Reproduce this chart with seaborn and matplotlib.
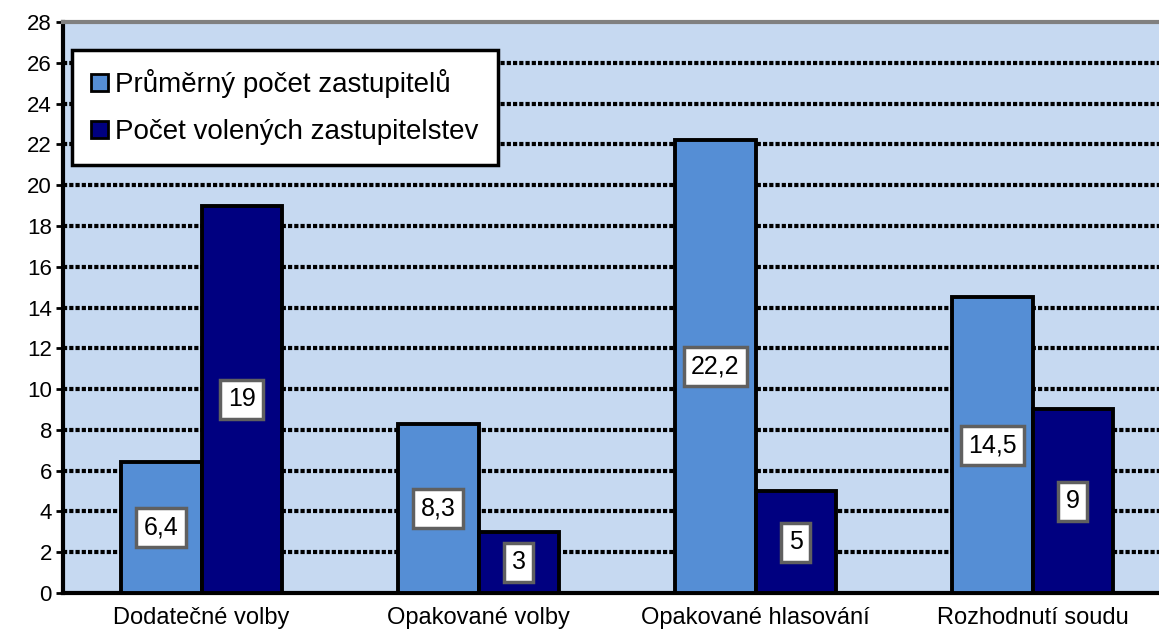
import matplotlib
matplotlib.use("Agg")
import matplotlib.pyplot as plt
import matplotlib.patches as mpatches
import seaborn as sns
import pandas as pd

# Données du graphique
kategorie = ["Dodatečné volby", "Opakované volby", "Opakované hlasování", "Rozhodnutí soudu"]
prumerny_pocet = [6.4, 8.3, 22.2, 14.5]
pocet_zastupitelstev = [19, 3, 5, 9]
serie = ["Průměrný počet zastupitelů", "Počet volených zastupitelstev"]
barvy = ["#558ED5", "#000080"]

df = pd.DataFrame({
    "kategorie": kategorie * 2,
    "hodnota": prumerny_pocet + pocet_zastupitelstev,
    "serie": [serie[0]] * 4 + [serie[1]] * 4,
})

sns.set_style("white", {"text.color": "black", "xtick.color": "black", "ytick.color": "black"})
plt.rcParams["font.family"] = ["Liberation Sans", "DejaVu Sans"]

fig = plt.figure(figsize=(11.59, 6.30), dpi=100)
ax = fig.add_axes([63 / 1159, 37 / 630, 1108 / 1159, 571 / 630])
ax.set_facecolor("#C6D9F1")

sns.barplot(data=df, x="kategorie", y="hodnota", hue="serie", palette=barvy,
            saturation=1, width=0.58, edgecolor="black", linewidth=2.8, ax=ax,
            legend=False, zorder=3)

ax.set_ylim(0, 28)
ax.set_xlim(-0.5, 3.5)
ax.set_yticks(range(0, 29, 2))
ax.tick_params(axis="y", labelsize=16, length=5, width=2, direction="out", pad=3,
               left=True, colors="black")

# graduations entre les catégories
ax.set_xticks([i - 0.5 for i in range(5)], minor=True)
ax.tick_params(axis="x", which="minor", length=6, width=2, direction="out", colors="black")
ax.tick_params(axis="x", which="major", length=0, labelsize=17, pad=10, labelcolor="black")
ax.set_xlabel("")
ax.set_ylabel("")

# grille pointillée
for y in range(2, 28, 2):
    ax.axhline(y, color="black", linewidth=3, linestyle=(0, (1, 0.5)), zorder=1)
ax.axhline(28, color="black", linewidth=1.2, linestyle=(0, (2, 1)), zorder=1)

for side in ["left", "bottom"]:
    ax.spines[side].set_linewidth(3)
    ax.spines[side].set_color("black")
ax.spines["top"].set_color("#808080")
ax.spines["top"].set_linewidth(3)
ax.spines["right"].set_visible(False)

# étiquettes des valeurs au milieu des barres
for cont in ax.containers:
    for rect in cont:
        h = rect.get_height()
        txt = f"{h:g}".replace(".", ",")
        ax.text(rect.get_x() + rect.get_width() / 2, h / 2, txt, ha="center", va="center",
                fontsize=18, color="black", zorder=5,
                bbox=dict(boxstyle="square,pad=0.3", facecolor="white",
                          edgecolor="#606060", linewidth=2.5))

handles = [mpatches.Patch(facecolor=c, edgecolor="black", linewidth=2) for c in barvy]
leg = ax.legend(handles, serie, loc="upper left", bbox_to_anchor=(0.008, 0.951),
                fontsize=20, frameon=True, fancybox=False, edgecolor="black",
                facecolor="white", framealpha=1,
                handlelength=0.6, handleheight=0.6, handletextpad=0.25,
                labelspacing=0.75, borderpad=0.7, borderaxespad=0)
leg.get_frame().set_linewidth(2.5)
leg.set_zorder(6)
for t in leg.get_texts():
    t.set_color("black")

fig.savefig("out.png", dpi=100)
